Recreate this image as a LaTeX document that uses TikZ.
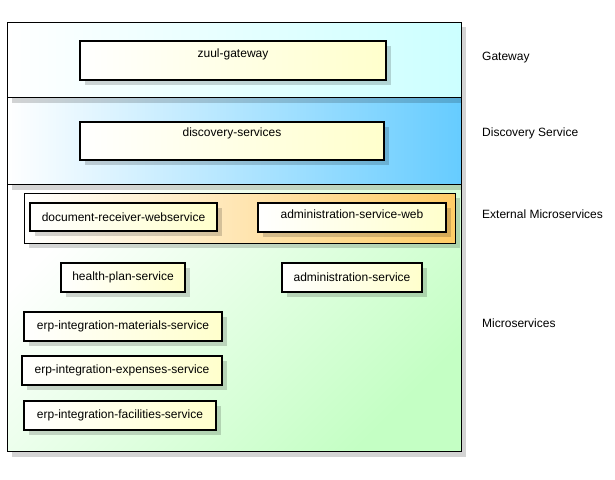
\documentclass[tikz,border=0pt]{standalone}
\usepackage{fontspec}
\setmainfont{Liberation Sans}
\usetikzlibrary{shadows}
\definecolor{gwR}{HTML}{CCFFFF}
\definecolor{dsR}{HTML}{66CCFF}
\definecolor{msR}{HTML}{C4FFC4}
\definecolor{exR}{HTML}{FFCC66}
\definecolor{bxR}{HTML}{FFFFCC}
\begin{document}
\begin{tikzpicture}[x=1pt,y=-1pt,
  font=\fontsize{12}{14}\selectfont,
  shd/.style={drop shadow={shadow xshift=5pt, shadow yshift=-5pt, fill=black, opacity=0.17}},
  layerbox/.style={draw=black, line width=1pt, shd},
  svc/.style={draw=black, line width=2pt, left color=white, right color=bxR, inner sep=0pt, shd},
  txt/.style={inner sep=0pt, anchor=center},
  lbl/.style={anchor=west, inner sep=0pt}]
\useasboundingbox (0,0) rectangle (615,479);
% layers (bottom first so that upper shadows overlay)
\path[layerbox, left color=white, right color=msR, shading angle=45] (7,184.5) rectangle (461,451.5);
\path[layerbox, left color=white, right color=dsR] (7,97.5) rectangle (461,184.5);
\path[layerbox, left color=white, right color=gwR] (7,22) rectangle (461,97.5);
\path[layerbox, left color=white, right color=exR] (24,193) rectangle (455,243);
% services
\node[svc, minimum width=306pt, minimum height=39pt] (zuul) at (233,60.5) {};
\node[txt] (zuultxt) at (233,54) {zuul-gateway};
\node[svc, minimum width=304pt, minimum height=38pt] (disc) at (232,141) {};
\node[txt] (disctxt) at (232,133.5) {discovery-services};
\node[svc, minimum width=187pt, minimum height=28pt] (doc) at (123.5,217) {document-receiver-webservice};
\node[svc, minimum width=188pt, minimum height=29pt] (admweb) at (352,217.5) {};
\node[txt] (admwebtxt) at (352,214.5) {administration-service-web};
\node[svc, minimum width=124pt, minimum height=29pt] (health) at (123,277.5) {health-plan-service};
\node[svc, minimum width=140pt, minimum height=29pt] (admin) at (352,277.5) {administration-service};
\node[svc, minimum width=198pt, minimum height=29pt] (mat) at (123,326.5) {erp-integration-materials-service};
\node[svc, minimum width=200pt, minimum height=29pt] (exp) at (122,370.5) {erp-integration-expenses-service};
\node[svc, minimum width=192pt, minimum height=29pt] (fac) at (120,415.5) {erp-integration-facilities-service};
% layer labels
\node[lbl] (lgw) at (482,58) {Gateway};
\node[lbl] (lds) at (482,133.5) {Discovery Service};
\node[lbl] (lex) at (482,214) {External Microservices};
\node[lbl] (lms) at (482,323.5) {Microservices};
\end{tikzpicture}
\end{document}
